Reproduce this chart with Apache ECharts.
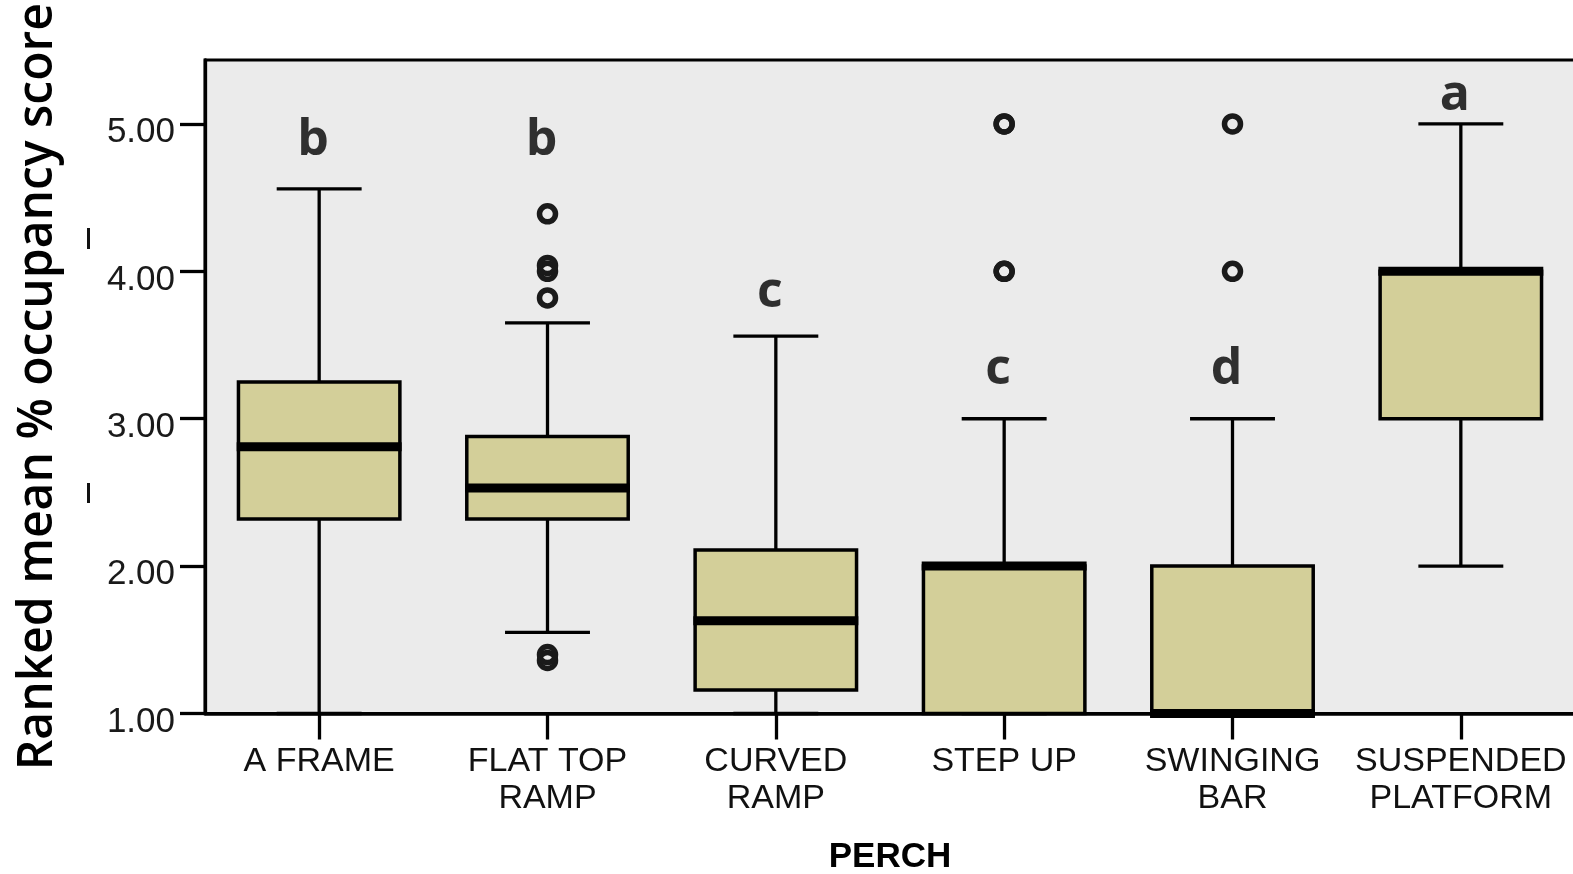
<!DOCTYPE html>
<html>
<head>
<meta charset="utf-8">
<script src="https://cdn.jsdelivr.net/npm/echarts@6/dist/echarts.min.js"></script>
<style>
html,body{margin:0;padding:0;background:#fff;}
#chart{width:1573px;height:874px;}
</style>
</head>
<body>
<div id="chart"></div>
<script>
// ---- data ----
const categories = ['A FRAME', 'FLAT TOP\nRAMP', 'CURVED\nRAMP', 'STEP UP', 'SWINGING\nBAR', 'SUSPENDED\nPLATFORM'];
const lowerWhisker = [1.00, 1.55, 1.00, 1.00, 1.00, 2.00];
const q1Values     = [2.32, 2.32, 1.16, 1.00, 1.00, 3.00];
const medianValues = [2.81, 2.53, 1.63, 2.00, 1.00, 4.00];
const q3Values     = [3.25, 2.88, 2.11, 2.00, 2.00, 4.00];
const upperWhisker = [4.56, 3.65, 3.56, 3.00, 3.00, 5.00];
// outliers: [category index, value]
const outliers = [
  [1, 4.39], [1, 4.00], [1, 4.04], [1, 3.82], [1, 1.36], [1, 1.40],
  [3, 5.00], [3, 5.00], [3, 4.00], [3, 4.00],
  [4, 5.00], [4, 4.00]
];
const groupLetters = ['b', 'b', 'c', 'c', 'd', 'a'];
const letterValues = [4.885, 4.885, 3.853, 3.33, 3.33, 5.19];
const yTickValues = [1, 2, 3, 4, 5];
const yMin = 1, yMax = 5.434;

const boxData = categories.map((c, i) => [i, lowerWhisker[i], q1Values[i], medianValues[i], q3Values[i], upperWhisker[i]]);
const letterData = groupLetters.map((l, i) => [i, letterValues[i], l]);

const chart = echarts.init(document.getElementById('chart'), null, {renderer: 'canvas'});

function renderBox(params, api) {
  const i = api.value(0);
  const lo = api.coord([i, api.value(1)]);
  const q1 = api.coord([i, api.value(2)]);
  const med = api.coord([i, api.value(3)]);
  const q3 = api.coord([i, api.value(4)]);
  const hi = api.coord([i, api.value(5)]);
  const band = api.size([1, 0])[0];
  const bw = band * 0.707;
  const cw = band * 0.372;
  const x = lo[0];
  const lineStyle = {stroke: '#000', lineWidth: 3.3};
  const ch = [];
  ch.push({type: 'line', shape: {x1: x, y1: hi[1], x2: x, y2: q3[1]}, style: lineStyle});
  ch.push({type: 'line', shape: {x1: x, y1: q1[1], x2: x, y2: lo[1]}, style: lineStyle});
  ch.push({type: 'line', shape: {x1: x - cw / 2, y1: hi[1], x2: x + cw / 2, y2: hi[1]}, style: lineStyle});
  ch.push({type: 'line', shape: {x1: x - cw / 2, y1: lo[1], x2: x + cw / 2, y2: lo[1]}, style: lineStyle});
  ch.push({type: 'rect', shape: {x: x - bw / 2, y: q3[1], width: bw, height: q1[1] - q3[1]},
    style: {fill: '#d3cf99', stroke: '#000', lineWidth: 3.5}});
  ch.push({type: 'line', shape: {x1: x - bw / 2 - 1.75, y1: med[1], x2: x + bw / 2 + 1.75, y2: med[1]},
    style: {stroke: '#000', lineWidth: 9, lineCap: 'butt'}});
  return {type: 'group', children: ch};
}

const option = {
  backgroundColor: '#ffffff',
  animation: false,
  grid: {
    left: 205, top: 60, right: -2, bottom: 160.5,
    containLabel: false,
    outerBoundsMode: 'none',
    show: true, backgroundColor: '#ebebeb', borderColor: '#000', borderWidth: 3
  },
  xAxis: {
    type: 'category',
    data: categories,
    name: 'PERCH',
    nameLocation: 'middle',
    nameGap: 126,
    nameTextStyle: {fontFamily: 'Liberation Sans', fontWeight: 'bold', fontSize: 35, color: '#000'},
    axisLine: {show: true, lineStyle: {color: '#000', width: 3.5}},
    axisTick: {show: true, alignWithLabel: true, length: 26, lineStyle: {color: '#000', width: 3.3}},
    axisLabel: {fontFamily: 'Liberation Sans', fontSize: 34, lineHeight: 37, color: '#111', margin: 30, interval: 0},
    splitLine: {show: false}
  },
  yAxis: {
    type: 'value',
    min: yMin, max: yMax,
    interval: 1,
    name: 'Ranked mean % occupancy score',
    nameLocation: 'middle',
    nameGap: 143,
    nameTextStyle: {fontFamily: 'Open Sans', fontWeight: 600, fontSize: 48, color: '#000'},
    axisLine: {show: true, lineStyle: {color: '#000', width: 3.3}},
    axisTick: {show: true, length: 25, customValues: yTickValues, lineStyle: {color: '#000', width: 3.3}},
    axisLabel: {
      customValues: yTickValues,
      fontFamily: 'Liberation Sans', fontSize: 35, color: '#1a1a1a', margin: 30,
      verticalAlign: 'top', lineHeight: 17,
      formatter: v => Number(v).toFixed(2)
    },
    splitLine: {show: false}
  },
  graphic: [
    {type: 'rect', left: 87, top: 228, shape: {width: 3, height: 21}, style: {fill: '#111'}},
    {type: 'rect', left: 87, top: 483, shape: {width: 3, height: 20}, style: {fill: '#111'}}
  ],
  series: [
    {
      type: 'custom',
      renderItem: renderBox,
      data: boxData,
      encode: {x: 0, y: [1, 2, 3, 4, 5]},
      z: 2
    },
    {
      type: 'scatter',
      data: outliers,
      symbol: 'circle',
      symbolSize: 16,
      itemStyle: {color: 'rgba(235,235,235,0)', borderColor: '#1a1a1a', borderWidth: 5.5, opacity: 1},
      z: 3
    },
    {
      type: 'scatter',
      data: letterData,
      symbolSize: 0,
      label: {
        show: true, position: 'inside', offset: [-6, 0],
        formatter: p => p.data[2],
        fontFamily: 'Open Sans', fontWeight: 700, fontSize: 50, color: '#000'
      },
      z: 4
    }
  ]
};
chart.setOption(option);
</script>
</body>
</html>
